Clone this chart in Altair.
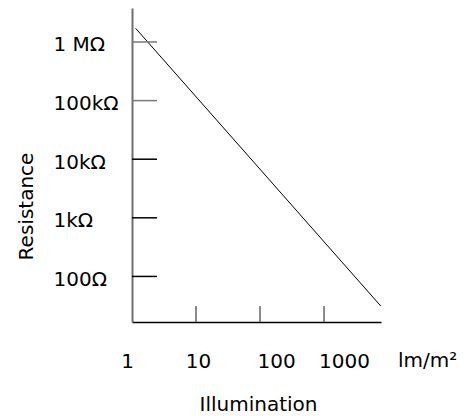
import altair as alt
import pandas as pd

# ---- data ----
illumination = [1.14, 7690]          # lm/m^2 (line end points)
resistance = [1.71e6, 31.3]          # ohm
y_ticks = [1e6, 1e5, 1e4, 1e3, 1e2]
y_labels = ["1 MΩ", "100kΩ", "10kΩ", "1kΩ", "100Ω"]
x_ticks = [1, 10, 100, 1000]
x_labels = ["1", "10", "100", "1000"]
x_unit = "lm/m²"
x_title = "Illumination"
y_title = "Resistance"
x_domain = [1, 7762]
y_domain = [16.7, 3.8e6]

W, H = 249, 314
FONT = "DejaVu Sans"
FS = 20

line_df = pd.DataFrame({"lux": illumination, "ohm": resistance})
ytick_df = pd.DataFrame({"ohm": y_ticks})
xtick_df = pd.DataFrame({"lux": x_ticks[1:]})
unit_df = pd.DataFrame({"t": [x_unit]})


def label_expr(vals, labels):
    parts = [f"abs(datum.value - {v}) < {v * 0.01} ? '{l}'" for v, l in zip(vals, labels)]
    return " : ".join(parts) + " : ''"


xscale = alt.Scale(type="log", domain=x_domain, nice=False)
yscale = alt.Scale(type="log", domain=y_domain, nice=False)

x_axis = alt.Axis(
    values=x_ticks, labelExpr=label_expr(x_ticks, x_labels), title=x_title,
    grid=False, domainColor="black", domainWidth=1.3,
    ticks=True, tickSize=0, tickOpacity=0,
    labelPadding=45, labelBaseline="alphabetic", labelAlign="center",
    labelFont=FONT, labelFontSize=FS, labelColor="black",
    labelFlush=False, labelOverlap=False,
    labelOffset={"condition": [
        {"test": "datum.value < 5", "value": -5},
        {"test": "datum.value < 50", "value": 2},
        {"test": "datum.value < 500", "value": 16},
    ], "value": 20},
    titleFont=FONT, titleFontSize=FS, titleFontWeight="normal", titleColor="black",
    titleX=126, titleY=88, titleAlign="center", titleBaseline="alphabetic",
)

y_axis = alt.Axis(
    values=y_ticks, labelExpr=label_expr(y_ticks, y_labels), title=y_title,
    grid=False, domainColor="#6e6e6e", domainWidth=2,
    ticks=True, tickSize=0, tickOpacity=0,
    labelPadding=79, labelAlign="left", labelBaseline="middle", labelOffset=3,
    labelFont=FONT, labelFontSize=FS, labelColor="black",
    labelFlush=False, labelOverlap=False,
    titleFont=FONT, titleFontSize=FS, titleFontWeight="normal", titleColor="black",
    titleX=-100, titleY=198, titleAngle=270, titleAlign="center", titleBaseline="alphabetic",
)

line = alt.Chart(line_df).mark_line(color="black", strokeWidth=1).encode(
    x=alt.X("lux:Q", scale=xscale, axis=x_axis),
    y=alt.Y("ohm:Q", scale=yscale, axis=y_axis),
)

yticks = alt.Chart(ytick_df).mark_rule(strokeWidth=1.5).encode(
    y=alt.Y("ohm:Q", scale=yscale, axis=y_axis),
    x=alt.value(0), x2=alt.value(25),
    color=alt.condition("datum.ohm >= 100000", alt.value("#777777"), alt.value("black")),
)

xticks = alt.Chart(xtick_df).mark_rule(strokeWidth=1.5, color="#666666").encode(
    x=alt.X("lux:Q", scale=xscale, axis=x_axis),
    y=alt.value(H), y2=alt.value(H - 16),
)

unit = alt.Chart(unit_df).mark_text(
    font=FONT, fontSize=FS, color="black", align="left", baseline="alphabetic"
).encode(x=alt.value(266), y=alt.value(359), text="t:N")

chart = alt.layer(line, yticks, xticks, unit).properties(
    width=W, height=H,
    autosize=alt.AutoSizeParams(type="none"),
    padding={"left": 124, "top": 0, "right": 80, "bottom": 98},
    background="white",
).configure_view(stroke=None)

chart.save("out.html", embed_options={"renderer": "svg", "actions": False})
